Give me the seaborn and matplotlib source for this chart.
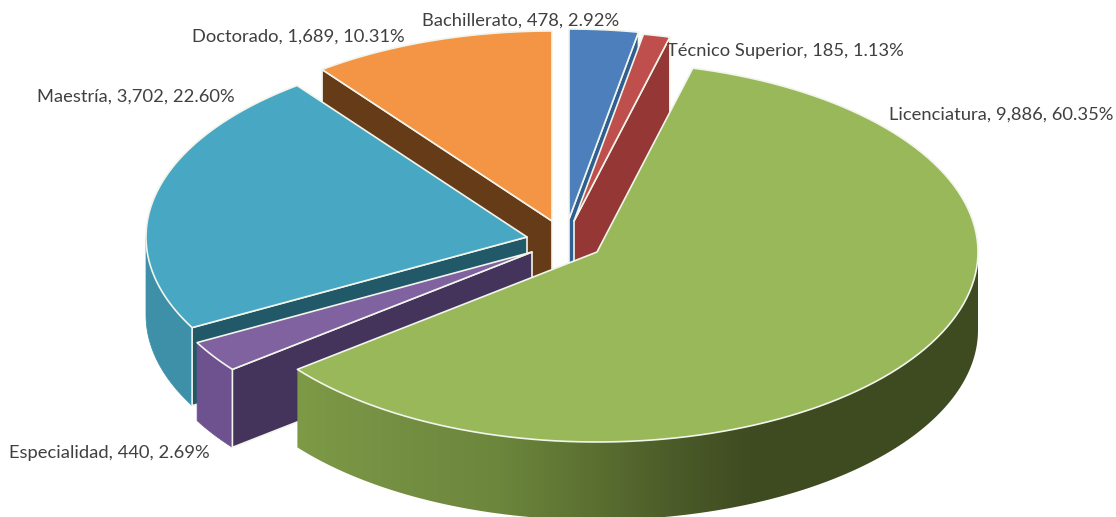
import numpy as np
import matplotlib
matplotlib.use('Agg')
import matplotlib.pyplot as plt
from matplotlib.colors import to_rgb
from matplotlib.patches import Polygon
import seaborn as sns

# Data
categories = ['Bachillerato', 'Técnico Superior', 'Licenciatura', 'Especialidad', 'Maestría', 'Doctorado']
values = [478, 185, 9886, 440, 3702, 1689]
percents = ['2.92%', '1.13%', '60.35%', '2.69%', '22.60%', '10.31%']

# Style of each slice
top_colors = ['#4D7FBC', '#BF4F4C', '#99B85A', '#8062A0', '#48A8C3', '#F39544']
face_colors = ['#2F5F92', '#953735', '#4F6228', '#44345C', '#215968', '#663C18']
side_colors = ['#3A6496', '#953735', '#4F6228', '#6E5290', '#3E90A9', '#B86F30']

# Exploded centre of each slice, in pixels of the picture
centres = [(569, 219), (574, 221), (597, 252), (532, 252), (527, 237), (552, 221)]
radius_x = 381
radius_y = 190
depth = 78
edge = '#F2F5EC'

# Label anchor: x, y, horizontal alignment
label_pos = [(521, 21, 'center'), (667, 51, 'left'), (1113, 115, 'right'),
             (210, 453, 'right'), (235, 97, 'right'), (405, 37, 'right')]

sns.set_theme(style='white')
plt.rcParams['font.family'] = ['Lato', 'DejaVu Sans']

fig, ax = plt.subplots(figsize=(11.16, 5.17), dpi=100)
ax.set_position([0, 0, 1, 1])
ax.axis('off')

# Slice angles, clockwise from the top
angles = 360 * np.cumsum([0] + values) / sum(values)


def rim(centre, a, b, n=120):
    t = np.radians(np.linspace(a, b, n))
    return np.column_stack([centre[0] + radius_x * np.sin(t), centre[1] - radius_y * np.cos(t)])


def draw_side(i, a, b, z):
    # outer wall of the slice between angles a and b
    pts = rim(centres[i], a, b, 160)
    wall = np.vstack([pts, pts[::-1] + (0, depth)])
    ax.add_patch(Polygon(wall, closed=True, fc=side_colors[i], ec=side_colors[i], lw=0.5, zorder=z))


def draw_gradient_side(i, a, b, x_stops, colours, z):
    # same wall, shaded from left to right and clipped to its outline
    pts = rim(centres[i], a, b, 160)
    wall = Polygon(np.vstack([pts, pts[::-1] + (0, depth)]), closed=True, fc='none', ec='none', zorder=z)
    ax.add_patch(wall)
    xs = np.arange(x_stops[0], x_stops[-1] + 1)
    rgb = np.array([to_rgb(c) for c in colours])
    shade = np.column_stack([np.interp(xs, x_stops, rgb[:, k]) for k in range(3)])
    img = ax.imshow(shade[np.newaxis, :, :], extent=(xs[0], xs[-1], 530, 240), aspect='auto',
                    interpolation='bilinear', zorder=z)
    img.set_clip_path(wall)


def draw_face(i, angle, z):
    # flat cut wall at one radial edge
    c = np.array(centres[i], dtype=float)
    p = rim(c, angle, angle, 1)[0]
    ax.add_patch(Polygon([c, p, p + (0, depth), c + (0, depth)], closed=True,
                         fc=face_colors[i], ec=edge, lw=1.2, joinstyle='round', zorder=z))


def draw_top(i, z):
    c = np.array(centres[i], dtype=float)
    pts = np.vstack([c, rim(c, angles[i], angles[i + 1])])
    ax.add_patch(Polygon(pts, closed=True, fc=top_colors[i], ec=edge, lw=1.2, joinstyle='round', zorder=z))


# Back slices first, front ones last
draw_face(5, angles[5], 1)
draw_top(5, 2)
draw_face(0, angles[1], 3)
draw_top(0, 4)
draw_face(1, angles[2], 5)
draw_top(1, 6)
draw_side(4, angles[4], 270, 7)
draw_face(4, angles[4], 8)
draw_top(4, 9)
draw_side(3, angles[3], angles[4], 10)
draw_face(3, angles[3], 11)
draw_top(3, 12)
draw_gradient_side(2, 90, angles[3], [297, 400, 500, 600, 680, 750, 980],
                   ['#7D9A46', '#748F42', '#6C863C', '#5A6E30', '#4A5A28', '#3F4B21', '#3E4A20'], 13)
draw_top(2, 14)

ax.set_xlim(0, 1116)
ax.set_ylim(517, 0)

# Labels
for name, value, pct, (x, y, ha) in zip(categories, values, percents, label_pos):
    ax.text(x, y, f'{name}, {value:,}, {pct}', ha=ha, va='center', fontsize=13.2, color='#404040', zorder=20)

plt.savefig('out.png', dpi=100)
